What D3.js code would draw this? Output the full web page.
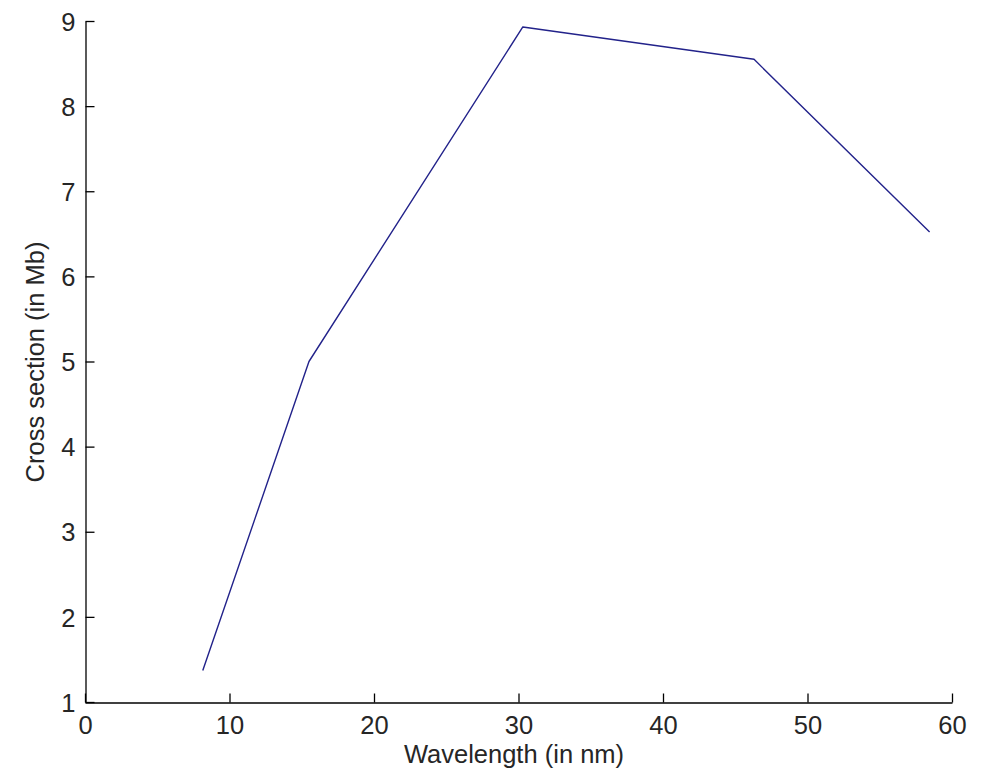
<!DOCTYPE html>
<html>
<head>
<meta charset="utf-8">
<script src="https://cdn.jsdelivr.net/npm/d3@7"></script>
<style>
  html, body { margin: 0; padding: 0; background: #ffffff; }
  svg { display: block; }
  text { font-family: "Liberation Sans", Arial, sans-serif; fill: #262626; }
</style>
</head>
<body>
<svg id="chart" width="982" height="777"></svg>
<script>
// Photoabsorption cross section versus wavelength
const wavelength = [8.15, 15.5, 30.3, 46.3, 58.45];
const crossSection = [1.37, 5.0, 8.93, 8.55, 6.52];

const xTicks = [0, 10, 20, 30, 40, 50, 60];
const yTicks = [1, 2, 3, 4, 5, 6, 7, 8, 9];

const xLabel = "Wavelength (in nm)";
const yLabel = "Cross section (in Mb)";

const svg = d3.select("#chart");

const plot = { left: 85, right: 952, top: 21, bottom: 702 };

const x = d3.scaleLinear().domain([0, 60]).range([plot.left, plot.right]);
const y = d3.scaleLinear().domain([1, 9]).range([plot.bottom, plot.top]);

const fontSize = 25.5;
const textColor = "#262626";

// Bottom axis, ticks pointing into the plot
const xAxis = d3.axisBottom(x).tickValues(xTicks).tickSizeInner(-9).tickSizeOuter(0).tickPadding(0);
const gx = svg.append("g").attr("transform", `translate(0,${plot.bottom + 0.5})`).call(xAxis);
gx.select(".domain").attr("stroke", "#000").attr("stroke-width", 1.3);
gx.selectAll(".tick line").attr("stroke", "#000").attr("stroke-width", 1.3);
gx.selectAll(".tick text")
  .attr("font-size", fontSize)
  .attr("font-family", "Liberation Sans, Arial, sans-serif")
  .attr("fill", textColor)
  .attr("dy", null)
  .attr("y", 31);

// Left axis, ticks pointing into the plot
const yAxis = d3.axisLeft(y).tickValues(yTicks).tickSizeInner(-9).tickSizeOuter(0).tickPadding(0);
const gy = svg.append("g").attr("transform", `translate(${plot.left + 0.5},0)`).call(yAxis);
gy.select(".domain").attr("stroke", "#000").attr("stroke-width", 1.3);
gy.selectAll(".tick line").attr("stroke", "#000").attr("stroke-width", 1.3);
gy.selectAll(".tick text")
  .attr("font-size", fontSize)
  .attr("font-family", "Liberation Sans, Arial, sans-serif")
  .attr("fill", textColor)
  .attr("x", -10)
  .attr("dy", "0.36em");

// Data line
const line = d3.line()
  .x((d, i) => x(wavelength[i]))
  .y(d => y(d));

svg.append("path")
  .datum(crossSection)
  .attr("fill", "none")
  .attr("stroke", "#22228a")
  .attr("stroke-width", 1.4)
  .attr("stroke-linejoin", "round")
  .attr("d", line);

// Axis titles
svg.append("text")
  .attr("x", 514)
  .attr("y", 763)
  .attr("text-anchor", "middle")
  .attr("font-size", fontSize)
  .text(xLabel);

svg.append("text")
  .attr("transform", `translate(44,362) rotate(-90)`)
  .attr("text-anchor", "middle")
  .attr("font-size", fontSize)
  .text(yLabel);
</script>
</body>
</html>
